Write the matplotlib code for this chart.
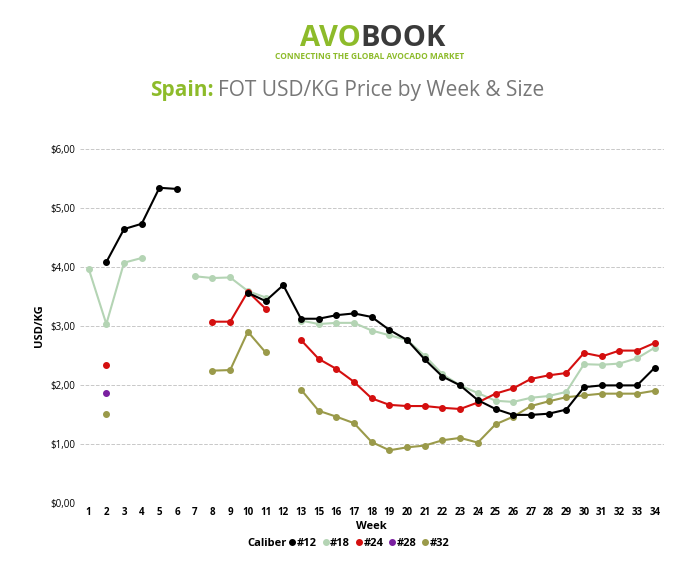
import numpy as np
import matplotlib.pyplot as plt

weeks = [1, 2, 3, 4, 5, 6, 7, 8, 9, 10, 11, 12, 13, 15, 16, 17, 18, 19, 20, 21,
         22, 23, 24, 25, 26, 27, 28, 29, 30, 31, 32, 33, 34]
n = np.nan
c12 = [n, 4.08, 4.64, 4.73, 5.34, 5.32, n, n, n, 3.56, 3.42, 3.69, 3.12, 3.12, 3.18, 3.21, 3.15,
       2.93, 2.76, 2.43, 2.14, 1.99, 1.74, 1.59, 1.49, 1.49, 1.51, 1.58, 1.96, 1.99, 1.99, 1.99, 2.29]
c18 = [3.97, 3.03, 4.07, 4.15, n, n, 3.84, 3.81, 3.82, 3.59, 3.48, n, 3.09, 3.03, 3.05, 3.05, 2.92,
       2.84, 2.76, 2.49, 2.18, 1.99, 1.86, 1.73, 1.71, 1.78, 1.81, 1.88, 2.35, 2.34, 2.36, 2.45, 2.63]
c24 = [n, 2.33, n, n, n, n, n, 3.07, 3.07, 3.58, 3.29, n, 2.76, 2.44, 2.27, 2.05, 1.77,
       1.66, 1.64, 1.64, 1.61, 1.59, 1.70, 1.85, 1.94, 2.10, 2.16, 2.20, 2.54, 2.48, 2.58, 2.58, 2.71]
c28 = [n, 1.86] + [n] * 31
c32 = [n, 1.51, n, n, n, n, n, 2.24, 2.25, 2.90, 2.55, n, 1.92, 1.56, 1.46, 1.35, 1.03,
       0.89, 0.94, 0.97, 1.06, 1.10, 1.02, 1.33, 1.46, 1.64, 1.72, 1.79, 1.82, 1.85, 1.85, 1.85, 1.90]

colors = {"#12": "#000000", "#18": "#b4d4b4", "#24": "#d40f0f", "#28": "#7a1fa0", "#32": "#9a9a4a"}
data = {"#12": c12, "#18": c18, "#24": c24, "#28": c28, "#32": c32}
draw_order = ["#18", "#32", "#24", "#12", "#28"]

plt.rcParams['font.family'] = ['Open Sans', 'DejaVu Sans']
fig = plt.figure(figsize=(7, 5.86), dpi=100)
ax = fig.add_axes([0.114, 0.142, 0.834, 0.604])
x = np.arange(len(weeks))
for name in draw_order:
    ax.plot(x, data[name], color=colors[name], lw=1.5, marker="o", ms=4, zorder=3)

ax.set_xlim(-0.5, len(weeks) - 0.5)
ax.set_ylim(0, 6)
ax.set_xticks(x)
ax.set_xticklabels([str(w) for w in weeks], fontsize=7, fontweight="bold")
ax.set_yticks(range(7))
ax.set_yticklabels(["$%d,00" % v for v in range(7)], fontsize=7)
ax.tick_params(length=0, pad=3)
ax.grid(axis="y", color="#c8c8c8", ls="--", lw=0.7)
for s in ax.spines.values():
    s.set_visible(False)
ax.set_xlabel("Week", fontsize=8, fontweight="bold", labelpad=2)
ax.set_ylabel("USD/KG", fontsize=8, fontweight="bold")

# legend
labels = ["#12", "#18", "#24", "#28", "#32"]
handles = [plt.Line2D([], [], color=colors[l], marker="o", ls="", ms=4) for l in labels]
fig.legend(handles, labels, loc="center left", bbox_to_anchor=(0.405, 0.073), ncol=5,
           frameon=False, handlelength=0.6, handletextpad=0.1, columnspacing=0.5,
           borderpad=0, prop={"weight": "bold", "size": 8})
fig.text(0.41, 0.073, "Caliber", fontsize=8, fontweight="bold", ha="right", va="center")

# header
fig.text(0.305, 0.846, "Spain:", fontsize=15, color="#8dbb2a", fontweight="bold", ha="right", va="center")
fig.text(0.312, 0.846, "FOT USD/KG Price by Week & Size", fontsize=15, color="#777777",
         ha="left", va="center")
fig.text(0.515, 0.935, "AVO", fontsize=21, fontweight="bold", color="#8dbb2a", ha="right", va="center")
fig.text(0.515, 0.935, "BOOK", fontsize=21, fontweight="bold", color="#3a3a3a", ha="left", va="center")
fig.text(0.528, 0.903, "CONNECTING THE GLOBAL AVOCADO MARKET", fontsize=6, fontweight="bold",
         color="#8dbb2a", ha="center", va="center")

fig.savefig("out.png", dpi=100)
